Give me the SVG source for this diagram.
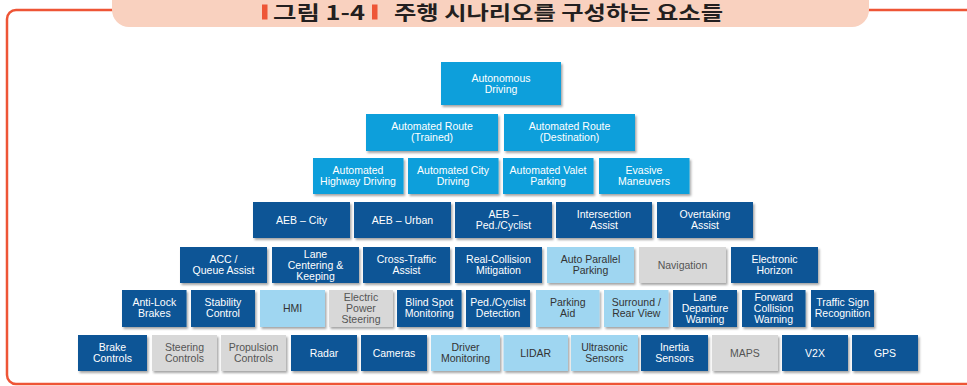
<svg xmlns="http://www.w3.org/2000/svg" width="967" height="386" viewBox="0 0 967 386">
<defs>
<filter id="sh" x="-10%" y="-10%" width="130%" height="140%">
<feDropShadow dx="1.5" dy="2" stdDeviation="1" flood-color="#000" flood-opacity="0.35"/>
</filter>
</defs>
<style>
.b rect{filter:url(#sh)}
.a rect{fill:#0a9fdb}
.d rect{fill:#0b5596}
.p rect{fill:#9fd6f1}
.g rect{fill:#d8d8d8}
.b text{font-family:"Liberation Sans",Arial,sans-serif;font-size:10.5px;text-anchor:middle}
.a text,.d text{fill:#fff}
.p text{fill:#333}
.g text{fill:#555}
.t{font-family:"Noto Sans CJK KR","Noto Sans",sans-serif;font-weight:bold;font-size:19.5px;fill:#231f20}
</style>
<rect width="967" height="386" fill="#fff"/>
<g id="frame">
<rect x="7" y="10" width="980" height="374" rx="9" fill="none" stroke="#ee5536" stroke-width="2.5"/>
<rect x="112" y="-25" width="757" height="52" rx="17" fill="#f9d1bf"/>
<rect x="262" y="4.5" width="5.5" height="15" fill="#ee5536"/>
<rect x="372" y="4.5" width="5.5" height="15" fill="#ee5536"/>
<text class="t" x="273" y="20" textLength="92" lengthAdjust="spacingAndGlyphs">그림 1-4</text>
<text class="t" x="394" y="20" textLength="329" lengthAdjust="spacingAndGlyphs">주행 시나리오를 구성하는 요소들</text>
</g>
<g id="n-autonomous" class="b a"><rect x="441" y="62" width="120" height="43"/><text x="501" y="82">Autonomous</text><text x="501" y="93">Driving</text></g>
<g id="n-route-trained" class="b a"><rect x="366" y="114" width="132" height="37"/><text x="432" y="130">Automated Route</text><text x="432" y="141">(Trained)</text></g>
<g id="n-route-dest" class="b a"><rect x="504" y="114" width="131" height="37"/><text x="569.5" y="130">Automated Route</text><text x="569.5" y="141">(Destination)</text></g>
<g id="n-highway" class="b a"><rect x="313" y="158" width="90.5" height="36"/><text x="358" y="174">Automated</text><text x="358" y="185">Highway Driving</text></g>
<g id="n-city" class="b a"><rect x="408" y="158" width="90.5" height="36"/><text x="453" y="174">Automated City</text><text x="453" y="185">Driving</text></g>
<g id="n-valet" class="b a"><rect x="503" y="158" width="90.5" height="36"/><text x="548" y="174">Automated Valet</text><text x="548" y="185">Parking</text></g>
<g id="n-evasive" class="b a"><rect x="599" y="158" width="90.5" height="36"/><text x="644" y="174">Evasive</text><text x="644" y="185">Maneuvers</text></g>
<g id="n-aeb-city" class="b d"><rect x="253" y="202" width="97" height="36"/><text x="301.5" y="223.5">AEB – City</text></g>
<g id="n-aeb-urban" class="b d"><rect x="354" y="202" width="97" height="36"/><text x="402.5" y="223.5">AEB – Urban</text></g>
<g id="n-aeb-ped" class="b d"><rect x="455" y="202" width="97" height="36"/><text x="503.5" y="218">AEB –</text><text x="503.5" y="229">Ped./Cyclist</text></g>
<g id="n-intersection" class="b d"><rect x="556" y="202" width="96" height="36"/><text x="604" y="218">Intersection</text><text x="604" y="229">Assist</text></g>
<g id="n-overtaking" class="b d"><rect x="657" y="202" width="96" height="36"/><text x="705" y="218">Overtaking</text><text x="705" y="229">Assist</text></g>
<g id="n-acc" class="b d"><rect x="180" y="247" width="87" height="36"/><text x="223.5" y="263">ACC /</text><text x="223.5" y="274">Queue Assist</text></g>
<g id="n-lane-centering" class="b d"><rect x="272" y="247" width="87" height="36"/><text x="315.5" y="257.5">Lane</text><text x="315.5" y="268.5">Centering &amp;</text><text x="315.5" y="279.5">Keeping</text></g>
<g id="n-cross-traffic" class="b d"><rect x="363" y="247" width="87" height="36"/><text x="406.5" y="263">Cross-Traffic</text><text x="406.5" y="274">Assist</text></g>
<g id="n-real-collision" class="b d"><rect x="455" y="247" width="87" height="36"/><text x="498.5" y="263">Real-Collision</text><text x="498.5" y="274">Mitigation</text></g>
<g id="n-auto-parallel" class="b p"><rect x="547" y="247" width="87" height="36"/><text x="590.5" y="263">Auto Parallel</text><text x="590.5" y="274">Parking</text></g>
<g id="n-navigation" class="b g"><rect x="639" y="247" width="87" height="36"/><text x="682.5" y="268.5">Navigation</text></g>
<g id="n-e-horizon" class="b d"><rect x="731" y="247" width="87" height="36"/><text x="774.5" y="263">Electronic</text><text x="774.5" y="274">Horizon</text></g>
<g id="n-antilock" class="b d"><rect x="122" y="290" width="64.5" height="37"/><text x="154.3" y="306">Anti-Lock</text><text x="154.3" y="317">Brakes</text></g>
<g id="n-stability" class="b d"><rect x="191" y="290" width="64" height="37"/><text x="223" y="306">Stability</text><text x="223" y="317">Control</text></g>
<g id="n-hmi" class="b p"><rect x="260" y="290" width="65" height="37"/><text x="292.5" y="312">HMI</text></g>
<g id="n-eps" class="b g"><rect x="329" y="290" width="64" height="37"/><text x="361" y="301">Electric</text><text x="361" y="312">Power</text><text x="361" y="323">Steering</text></g>
<g id="n-blind-spot" class="b d"><rect x="397" y="290" width="64.5" height="37"/><text x="429.3" y="306">Blind Spot</text><text x="429.3" y="317">Monitoring</text></g>
<g id="n-ped-detect" class="b d"><rect x="466" y="290" width="64" height="37"/><text x="498" y="306">Ped./Cyclist</text><text x="498" y="317">Detection</text></g>
<g id="n-parking-aid" class="b p"><rect x="536" y="290" width="63.5" height="37"/><text x="567.7" y="306">Parking</text><text x="567.7" y="317">Aid</text></g>
<g id="n-surround" class="b p"><rect x="604" y="290" width="64.5" height="37"/><text x="636.3" y="306">Surround /</text><text x="636.3" y="317">Rear View</text></g>
<g id="n-lane-departure" class="b d"><rect x="673" y="290" width="64" height="37"/><text x="705" y="301">Lane</text><text x="705" y="312">Departure</text><text x="705" y="323">Warning</text></g>
<g id="n-forward-collision" class="b d"><rect x="742" y="290" width="63.5" height="37"/><text x="773.7" y="301">Forward</text><text x="773.7" y="312">Collision</text><text x="773.7" y="323">Warning</text></g>
<g id="n-traffic-sign" class="b d"><rect x="811" y="290" width="63" height="37"/><text x="842.5" y="306">Traffic Sign</text><text x="842.5" y="317">Recognition</text></g>
<g id="n-brake" class="b d"><rect x="78" y="335" width="69" height="36"/><text x="112.5" y="350.5">Brake</text><text x="112.5" y="361.5">Controls</text></g>
<g id="n-steering" class="b g"><rect x="152" y="335" width="65" height="36"/><text x="184.5" y="350.5">Steering</text><text x="184.5" y="361.5">Controls</text></g>
<g id="n-propulsion" class="b g"><rect x="221" y="335" width="65" height="36"/><text x="253.5" y="350.5">Propulsion</text><text x="253.5" y="361.5">Controls</text></g>
<g id="n-radar" class="b d"><rect x="291" y="335" width="66" height="36"/><text x="324" y="356.5">Radar</text></g>
<g id="n-cameras" class="b d"><rect x="361" y="335" width="66" height="36"/><text x="394" y="356.5">Cameras</text></g>
<g id="n-driver-monitoring" class="b p"><rect x="431" y="335" width="69" height="36"/><text x="465.5" y="350.5">Driver</text><text x="465.5" y="361.5">Monitoring</text></g>
<g id="n-lidar" class="b p"><rect x="503.5" y="335" width="64.5" height="36"/><text x="535.7" y="356.5">LIDAR</text></g>
<g id="n-ultrasonic" class="b p"><rect x="571" y="335" width="67" height="36"/><text x="604.5" y="350.5">Ultrasonic</text><text x="604.5" y="361.5">Sensors</text></g>
<g id="n-inertia" class="b d"><rect x="641" y="335" width="67" height="36"/><text x="674.5" y="350.5">Inertia</text><text x="674.5" y="361.5">Sensors</text></g>
<g id="n-maps" class="b g"><rect x="712" y="335" width="66" height="36"/><text x="745" y="356.5">MAPS</text></g>
<g id="n-v2x" class="b d"><rect x="782" y="335" width="66" height="36"/><text x="815" y="356.5">V2X</text></g>
<g id="n-gps" class="b d"><rect x="852" y="335" width="66" height="36"/><text x="885" y="356.5">GPS</text></g>
</svg>
